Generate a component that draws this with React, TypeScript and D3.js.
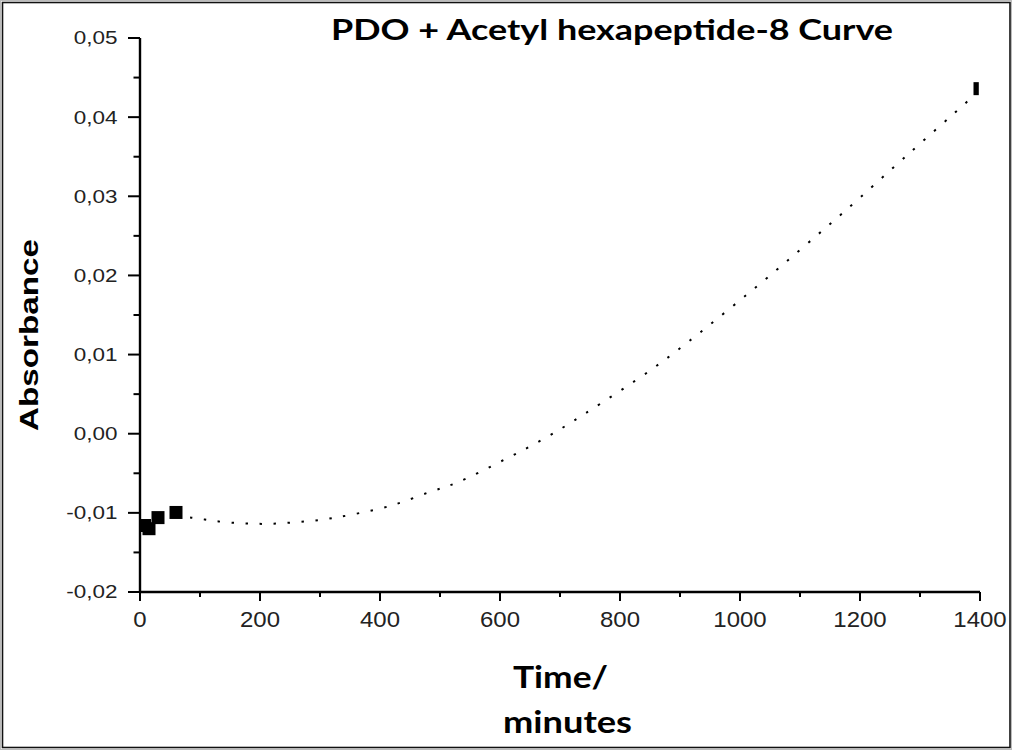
import React from "react";
import * as d3 from "d3";

// Measured data points (time in minutes, absorbance)
const timeMin = [7.5, 15, 30, 60, 1400];
const absorbance = [-0.0116, -0.012, -0.0106, -0.00995, 0.0436];

// Fit curve
const fitTime = [60, 86, 108, 131, 175, 218, 263, 308, 351, 418, 483, 528, 608, 676, 742, 852, 916, 1043, 1108, 1174, 1283, 1371, 1385];
const fitAbs = [-0.0104, -0.01062, -0.01084, -0.01109, -0.01134, -0.01138, -0.01116, -0.01081, -0.01025, -0.0091, -0.00736, -0.00619, -0.00325, -0.00052, 0.00256, 0.00809, 0.01175, 0.01955, 0.02375, 0.02808, 0.0355, 0.04143, 0.0424];

// Ticks
const xTicks = [0, 200, 400, 600, 800, 1000, 1200, 1400];
const xTickLabels = ["0", "200", "400", "600", "800", "1000", "1200", "1400"];
const xMinorTicks = [100, 300, 500, 700, 900, 1100, 1300];
const yTicks = [-0.02, -0.01, 0, 0.01, 0.02, 0.03, 0.04, 0.05];
const yTickLabels = ["-0,02", "-0,01", "0,00", "0,01", "0,02", "0,03", "0,04", "0,05"];
const yMinorTicks = [-0.015, -0.005, 0.005, 0.015, 0.025, 0.035, 0.045];

const W = 1013;
const H = 752;
const X0 = 140, X1 = 980, Y0 = 592, Y1 = 38;

export default function App() {
  const x = d3.scaleLinear().domain([0, 1400]).range([X0, X1]);
  const y = d3.scaleLinear().domain([-0.02, 0.05]).range([Y0, Y1]);
  const fitData = fitTime.map((t, i) => [t, fitAbs[i]] as [number, number]);
  const line = d3
    .line<[number, number]>()
    .x((d) => x(d[0]))
    .y((d) => y(d[1]))
    .curve(d3.curveCatmullRom);
  const sq = 13;
  const tickFont = "'Liberation Sans', Arial, sans-serif";
  const titleFont = "Lato, 'Open Sans', sans-serif";

  return (
    <svg
      width={W}
      height={H}
      viewBox={`0 0 ${W} ${H}`}
      style={{ position: "absolute", left: 0, top: 0, background: "#fff" }}
    >
      <defs>
        <clipPath id="plotClip">
          <rect x={X0} y={Y1 - 10} width={978.8 - X0} height={Y0 - Y1 + 10} />
        </clipPath>
      </defs>
      <rect x={0} y={0} width={W} height={H} fill="#fff" />
      <rect x={0.5} y={0.5} width={1011} height={749} fill="none" stroke="#bbb" strokeWidth={1} />
      <rect x={2.5} y={2.5} width={1007.5} height={745} fill="none" stroke="#111" strokeWidth={1.6} />

      {/* Title */}
      <text
        x={331}
        y={40}
        fontFamily={titleFont}
        fontWeight={700}
        fontSize={29}
        textLength={562}
        lengthAdjust="spacingAndGlyphs"
        fill="#000"
      >
        PDO + Acetyl hexapeptide-8 Curve
      </text>

      {/* Fit curve */}
      <path
        d={line(fitData) || ""}
        fill="none"
        stroke="#000"
        strokeWidth={2}
        strokeDasharray="2.4 11.6"
      />

      {/* Data points */}
      <g clipPath="url(#plotClip)">
        {timeMin.map((t, i) => (
          <rect
            key={i}
            x={x(t) - sq / 2}
            y={y(absorbance[i]) - sq / 2}
            width={sq}
            height={sq}
            fill="#000"
          />
        ))}
      </g>

      {/* Y axis */}
      <line x1={X0} x2={X0} y1={Y1} y2={Y0 + 1} stroke="#000" strokeWidth={2.4} />
      {yTicks.map((v) => (
        <line key={"yt" + v} x1={X0 - 12} x2={X0} y1={y(v)} y2={y(v)} stroke="#000" strokeWidth={2} />
      ))}
      {yMinorTicks.map((v) => (
        <line key={"ym" + v} x1={X0 - 6.5} x2={X0} y1={y(v)} y2={y(v)} stroke="#000" strokeWidth={2} />
      ))}
      {yTicks.map((v, i) => (
        <text
          key={"yl" + v}
          transform={`translate(117.5,${y(v) + 6.4}) scale(1.27,1)`}
          textAnchor="end"
          fontFamily={tickFont}
          fontSize={17.7}
          fill="#222"
        >
          {yTickLabels[i]}
        </text>
      ))}

      {/* X axis */}
      <line x1={X0 - 1} x2={X1} y1={Y0} y2={Y0} stroke="#000" strokeWidth={2.4} />
      {xTicks.map((v) => (
        <line key={"xt" + v} x1={x(v)} x2={x(v)} y1={Y0} y2={Y0 + 9} stroke="#000" strokeWidth={2} />
      ))}
      {xMinorTicks.map((v) => (
        <line key={"xm" + v} x1={x(v)} x2={x(v)} y1={Y0} y2={Y0 + 5} stroke="#000" strokeWidth={2} />
      ))}
      {xTicks.map((v, i) => (
        <text
          key={"xl" + v}
          transform={`translate(${x(v)},627) scale(1.09,1)`}
          textAnchor="middle"
          fontFamily={tickFont}
          fontSize={22}
          fill="#222"
        >
          {xTickLabels[i]}
        </text>
      ))}

      {/* Axis titles */}
      <text
        transform="translate(38,335) rotate(-90)"
        textAnchor="middle"
        fontFamily={tickFont}
        fontWeight={700}
        fontSize={26}
        textLength={192}
        lengthAdjust="spacingAndGlyphs"
        fill="#000"
      >
        Absorbance
      </text>
      <text
        x={513}
        y={688}
        fontFamily={titleFont}
        fontWeight={700}
        fontSize={30}
        textLength={95}
        lengthAdjust="spacingAndGlyphs"
        fill="#000"
      >
        Time/
      </text>
      <text
        x={503}
        y={733}
        fontFamily={titleFont}
        fontWeight={700}
        fontSize={30}
        textLength={129}
        lengthAdjust="spacingAndGlyphs"
        fill="#000"
      >
        minutes
      </text>
    </svg>
  );
}
